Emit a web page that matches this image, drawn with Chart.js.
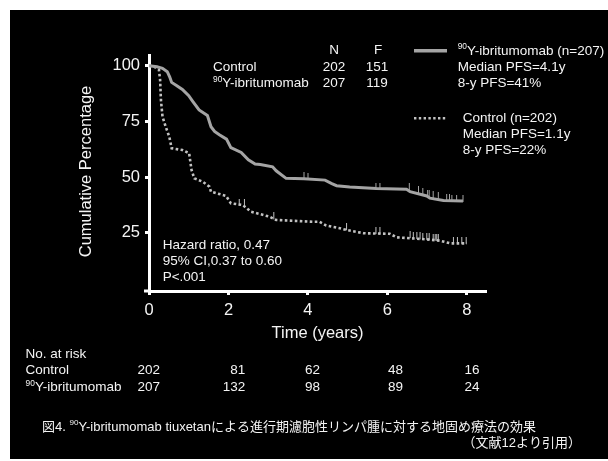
<!DOCTYPE html>
<html>
<head>
<meta charset="utf-8">
<script src="https://cdn.jsdelivr.net/npm/chart.js@4.4.1/dist/chart.umd.min.js"></script>
<style>
  html, body { margin: 0; padding: 0; background: #ffffff; }
  canvas { display: block; }
</style>
</head>
<body>
<canvas id="km" width="608" height="461"></canvas>
<script>
// ---- data ----
const X_TICKS = [0, 2, 4, 6, 8];
const Y_TICKS = [25, 50, 75, 100];

// 90Y-ibritumomab arm: time (years) and cumulative percentage
const IBRI_T = [0, 0.2, 0.34, 0.46, 0.52, 0.57, 0.7, 0.84, 1.0, 1.1, 1.26, 1.47, 1.56, 1.65, 1.77, 1.95, 2.06, 2.32, 2.5, 2.67, 2.8, 3.11, 3.2, 3.45, 3.9, 4.43, 4.6, 4.72, 5.05, 5.72, 6.48, 6.57, 6.99, 7.07, 7.41, 7.9];
const IBRI_V = [100, 99.5, 98.8, 97.3, 95, 92.5, 91, 89.3, 86.5, 84, 80.1, 77.6, 72.6, 70.5, 69.0, 67, 63.2, 61, 57.7, 55.8, 55.6, 54.6, 52.8, 49.4, 49.2, 48.6, 47, 46.1, 45.5, 44.8, 44.5, 43.4, 41.5, 40.5, 39.5, 39.2];

// Control arm
const CTRL_T = [0, 0.13, 0.25, 0.28, 0.30, 0.34, 0.42, 0.51, 0.57, 0.84, 1.01, 1.07, 1.14, 1.35, 1.52, 1.56, 1.94, 2.06, 2.36, 2.57, 3.03, 3.2, 4.12, 4.29, 4.46, 4.8, 4.97, 5.39, 5.5, 6.06, 6.23, 6.99, 7.32, 7.58, 8.0];
const CTRL_V = [100, 99.6, 98.1, 93.6, 84.6, 77.1, 72.6, 68.1, 62.9, 62.1, 60.7, 53.2, 49.4, 47.9, 45.7, 43.4, 41.5, 38.2, 37.4, 34.4, 32.2, 30.7, 29.9, 29.9, 28.2, 27, 26.2, 24.8, 24.7, 24.5, 22.9, 22.0, 21.4, 20.2, 20.2];

// censored observations
const IBRI_CENS_T = [3.9, 4.0, 5.71, 5.81, 6.55, 6.78, 6.89, 7.01, 7.05, 7.15, 7.28, 7.49, 7.56, 7.62, 7.74, 7.9];
const IBRI_CENS_V = [49.2, 49.1, 44.6, 44.5, 44.4, 43.0, 42.3, 41.4, 41.2, 40.6, 40.4, 39.5, 39.3, 39.2, 39.1, 39.0];
const CTRL_CENS_T = [2.27, 2.4, 3.14, 4.97, 5.71, 5.81, 6.57, 6.65, 6.74, 6.82, 6.89, 6.99, 7.05, 7.15, 7.2, 7.24, 7.28, 7.66, 7.76, 7.87, 7.98];
const CTRL_CENS_V = [37.4, 37.4, 31.2, 26.3, 24.6, 24.5, 22.8, 22.6, 22.4, 22.2, 22.1, 22.0, 21.9, 21.7, 21.6, 21.5, 21.5, 20.2, 20.2, 20.2, 20.2];

// summary table (N, F)
const ARM_NAMES = ['Control', 'Y-ibritumomab'];
const ARM_N = [202, 207];
const ARM_F = [151, 119];

// numbers at risk at 0, 2, 4, 6, 8 years
const RISK_CTRL = [202, 81, 62, 48, 16];
const RISK_IBRI = [207, 132, 98, 89, 24];

// ---- styling ----
const FONT = "'Liberation Sans', Arial, 'Noto Sans CJK JP', sans-serif";
const TEXT = '#f4f4f4';
const IBRI_COLOR = '#a4a4a4';
const CTRL_COLOR = '#c2c2c2';

function censorMark(color) {
  const c = document.createElement('canvas');
  c.width = 3; c.height = 13;
  const g = c.getContext('2d');
  g.fillStyle = color;
  g.fillRect(1, 0, 1, 7);
  return c;
}

function pts(ts, vs) { return ts.map((t, i) => ({ x: t, y: vs[i] })); }

// text with a leading superscript ("90")
function supText(ctx, x, y, sup, text, size) {
  ctx.textAlign = 'left';
  ctx.font = (size * 0.62).toFixed(1) + 'px ' + FONT;
  ctx.fillText(sup, x, y - size * 0.3);
  const w = ctx.measureText(sup).width;
  ctx.font = size + 'px ' + FONT;
  ctx.fillText(text, x + w, y);
}

const frame = {
  id: 'frame',
  beforeDraw(chart) {
    const ctx = chart.ctx;
    ctx.save();
    ctx.fillStyle = '#ffffff';
    ctx.fillRect(0, 0, chart.width, chart.height);
    ctx.fillStyle = '#000000';
    ctx.fillRect(10, 10, chart.width - 10, chart.height - 12);
    ctx.restore();
  },
  afterDraw(chart) {
    const ctx = chart.ctx;
    const area = chart.chartArea;
    ctx.save();

    // axis line stub left of the y axis
    ctx.strokeStyle = '#ffffff';
    ctx.lineWidth = 3;
    ctx.beginPath();
    ctx.moveTo(area.left - 5, area.bottom);
    ctx.lineTo(area.left, area.bottom);
    ctx.stroke();

    ctx.fillStyle = TEXT;
    ctx.textBaseline = 'middle';

    // axis titles
    ctx.font = '16.5px ' + FONT;
    ctx.textAlign = 'center';
    ctx.fillText('Time (years)', (area.left + area.right) / 2, 333);
    ctx.save();
    ctx.translate(86, 171.5);
    ctx.rotate(-Math.PI / 2);
    ctx.fillText('Cumulative Percentage', 0, 0);
    ctx.restore();

    // N / F table
    const fs = 13.5;
    ctx.font = fs + 'px ' + FONT;
    ctx.textAlign = 'center';
    ctx.fillText('N', 334, 50.7);
    ctx.fillText('F', 378, 50.7);
    const rowsY = [67.5, 83.3];
    for (let i = 0; i < 2; i++) {
      ctx.textAlign = 'center';
      ctx.font = fs + 'px ' + FONT;
      ctx.fillText(String(ARM_N[i]), 334, rowsY[i]);
      ctx.fillText(String(ARM_F[i]), 377, rowsY[i]);
      if (i === 0) {
        ctx.textAlign = 'left';
        ctx.fillText(ARM_NAMES[i], 213, rowsY[i]);
      } else {
        supText(ctx, 213, rowsY[i], '90', ARM_NAMES[i], fs);
      }
    }

    // legend
    ctx.lineCap = 'butt';
    ctx.strokeStyle = IBRI_COLOR;
    ctx.lineWidth = 3.5;
    ctx.beginPath();
    ctx.moveTo(414, 50.7); ctx.lineTo(447, 50.7);
    ctx.stroke();
    ctx.strokeStyle = CTRL_COLOR;
    ctx.lineWidth = 2.6;
    ctx.setLineDash([2.4, 2.4]);
    ctx.beginPath();
    ctx.moveTo(414, 118.3); ctx.lineTo(447, 118.3);
    ctx.stroke();
    ctx.setLineDash([]);

    ctx.fillStyle = TEXT;
    supText(ctx, 457.7, 51, '90', 'Y-ibritumomab (n=207)', fs);
    ctx.font = fs + 'px ' + FONT;
    ctx.textAlign = 'left';
    ctx.fillText('Median PFS=4.1y', 457.7, 67.7);
    ctx.fillText('8-y PFS=41%', 457.7, 83.3);
    ctx.fillText('Control (n=202)', 462.7, 118.3);
    ctx.fillText('Median PFS=1.1y', 462.7, 134.3);
    ctx.fillText('8-y PFS=22%', 462.7, 150.3);

    // hazard ratio note
    ctx.fillText('Hazard ratio, 0.47', 162.7, 245.7);
    ctx.fillText('95% CI,0.37 to 0.60', 162.7, 261.3);
    ctx.fillText('P<.001', 162.7, 277.7);

    // numbers at risk
    ctx.fillText('No. at risk', 25.6, 354);
    ctx.fillText('Control', 25.6, 370.5);
    supText(ctx, 25.6, 387.3, '90', 'Y-ibritumomab', fs);
    ctx.font = fs + 'px ' + FONT;
    ctx.textAlign = 'right';
    const riskX = [160, 245.3, 320, 403, 479.5];
    for (let i = 0; i < riskX.length; i++) {
      ctx.fillText(String(RISK_CTRL[i]), riskX[i], 370.5);
      ctx.fillText(String(RISK_IBRI[i]), riskX[i], 387.3);
    }

    // caption
    const cs = 13;
    ctx.textAlign = 'left';
    ctx.font = cs + 'px ' + FONT;
    const head = '図4. ';
    ctx.fillText(head, 42, 427);
    const hw = ctx.measureText(head).width;
    supText(ctx, 42 + hw, 427, '90', 'Y-ibritumomab tiuxetanによる進行期濾胞性リンパ腫に対する地固め療法の効果', cs);
    ctx.font = cs + 'px ' + FONT;
    ctx.textAlign = 'right';
    ctx.fillText('（文献12より引用）', 581, 443.5);

    ctx.restore();
  }
};

new Chart(document.getElementById('km'), {
  type: 'line',
  data: {
    datasets: [
      {
        label: '90Y-ibritumomab',
        data: pts(IBRI_T, IBRI_V),
        borderColor: IBRI_COLOR,
        borderWidth: 3,
        pointRadius: 0,
        tension: 0,
        fill: false
      },
      {
        label: 'Control',
        data: pts(CTRL_T, CTRL_V),
        borderColor: CTRL_COLOR,
        borderWidth: 2.6,
        borderDash: [2.6, 2.4],
        pointRadius: 0,
        tension: 0,
        fill: false
      },
      {
        label: '90Y-ibritumomab censored',
        data: pts(IBRI_CENS_T, IBRI_CENS_V),
        showLine: false,
        pointStyle: censorMark(IBRI_COLOR),
        pointRadius: 3
      },
      {
        label: 'Control censored',
        data: pts(CTRL_CENS_T, CTRL_CENS_V),
        showLine: false,
        pointStyle: censorMark(CTRL_COLOR),
        pointRadius: 3
      }
    ]
  },
  options: {
    responsive: false,
    animation: false,
    events: [],
    layout: { padding: { top: 55, right: 122, bottom: 0, left: 0 } },
    plugins: { legend: { display: false }, tooltip: { enabled: false }, title: { display: false } },
    scales: {
      x: {
        type: 'linear',
        min: 0,
        max: 8.48,
        afterBuildTicks: s => { s.ticks = X_TICKS.map(v => ({ value: v })); },
        afterFit: s => { s.height = 170; },
        ticks: { color: TEXT, font: { family: FONT, size: 16.5 }, padding: 6, maxRotation: 0, autoSkip: false },
        grid: { drawOnChartArea: false, drawTicks: true, tickLength: 4, tickWidth: 3, tickColor: '#ffffff', color: '#ffffff' },
        border: { display: true, color: '#ffffff', width: 3 }
      },
      y: {
        type: 'linear',
        min: -1.2,
        max: 104.8,
        afterBuildTicks: s => { s.ticks = Y_TICKS.map(v => ({ value: v })); },
        afterFit: s => { s.width = 149; },
        ticks: { color: TEXT, font: { family: FONT, size: 16.5 }, padding: 5 },
        grid: { drawOnChartArea: false, drawTicks: true, tickLength: 4, tickWidth: 3, tickColor: '#ffffff', color: '#ffffff' },
        border: { display: true, color: '#ffffff', width: 3 }
      }
    }
  },
  plugins: [frame]
});
</script>
</body>
</html>
